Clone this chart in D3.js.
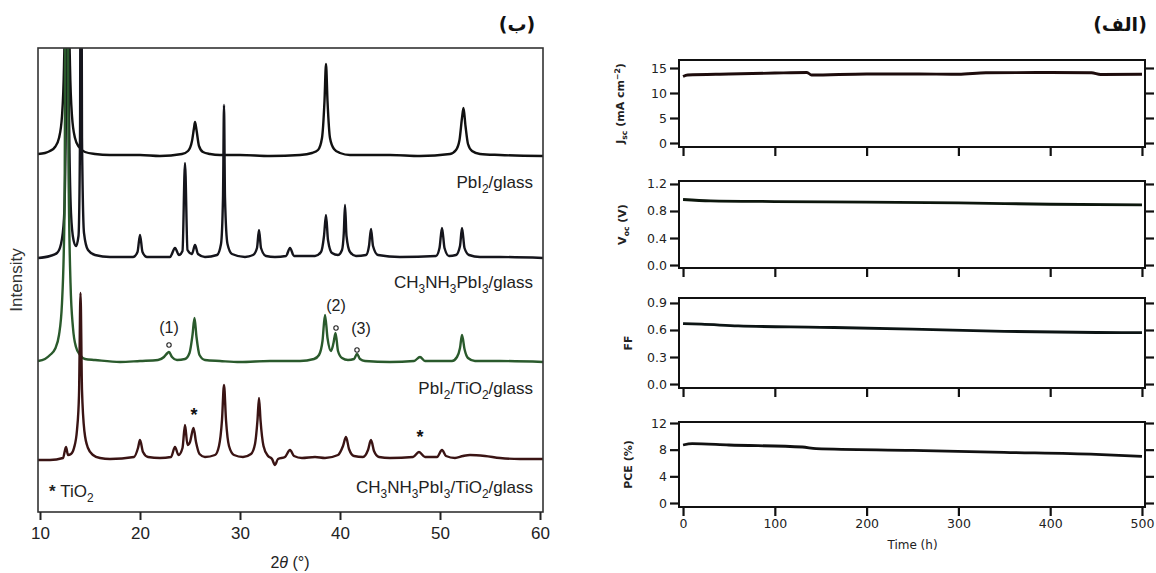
<!DOCTYPE html>
<html><head><meta charset="utf-8">
<script src="https://cdn.jsdelivr.net/npm/d3@7/dist/d3.min.js"></script>
<style>body{margin:0;background:#fff}svg{display:block}</style>
</head><body>
<svg id="c" width="1156" height="573"></svg>
<script>
// ---------------- DATA ----------------
// Left panel (ب): XRD patterns, [2θ, relative intensity (a.u.)]
const xrdTicks = [10, 20, 30, 40, 50, 60];
const xrdOffsets = [356, 254, 149, 52];
const xrdColors = ["#111111", "#15151c", "#2a5a2c", "#3a1414"];
const pbi2Glass = [[9.8,2],[10.5,3],[11,5],[11.5,9],[11.9,18],[12.2,40],[12.4,90],[12.55,200],[12.7,620],[12.85,200],[13.0,90],[13.2,40],[13.5,18],[13.9,9],[14.5,4],[15.5,2],[17,1],[20,1],[22,0],[24.2,2],[24.8,5],[25.2,15],[25.4,28],[25.5,34],[25.65,26],[25.9,10],[26.3,4],[27,2],[28,1],[30,1],[33,0],[36,1],[37.2,3],[37.8,6],[38.2,18],[38.45,55],[38.6,92],[38.75,55],[39.0,18],[39.4,7],[40,3],[41,1],[45,1],[48,0],[51,2],[51.6,6],[51.95,16],[52.2,38],[52.35,48],[52.55,30],[52.8,12],[53.2,5],[54,2],[56,1],[60.3,0]];
const mapiGlass = [[9.8,0],[11,2],[11.7,5],[12.1,14],[12.4,40],[12.6,150],[12.75,420],[12.9,150],[13.1,45],[13.35,18],[13.6,12],[13.85,22],[14.0,120],[14.1,500],[14.2,120],[14.4,25],[14.8,8],[15.5,3],[17,1],[19.3,1],[19.75,6],[20.0,23],[20.25,6],[20.7,1],[23.0,1],[23.5,10],[23.9,3],[24.25,7],[24.5,95],[24.75,8],[25.2,4],[25.5,13],[25.8,4],[26.5,1],[27.7,3],[28.1,14],[28.3,60],[28.4,153],[28.5,60],[28.75,14],[29.2,4],[30.5,1],[31.3,3],[31.7,10],[31.9,28],[32.1,10],[32.6,2],[33.5,1],[34.6,2],[35.0,10],[35.4,2],[37.5,2],[38.1,6],[38.4,22],[38.6,43],[38.8,18],[39.2,5],[39.8,3],[40.2,8],[40.38,25],[40.5,53],[40.65,22],[41,6],[41.6,2],[42.6,3],[42.9,12],[43.1,29],[43.3,12],[43.8,3],[46,1],[49.6,2],[49.95,10],[50.2,30],[50.45,10],[50.9,2],[51.6,3],[52.0,12],[52.2,30],[52.45,10],[52.9,3],[54,1],[56,1],[60.3,0]];
const pbi2TiO2 = [[9.8,2],[10.5,4],[11,8],[11.5,14],[11.9,28],[12.2,60],[12.45,150],[12.65,700],[12.85,200],[13.05,80],[13.3,35],[13.6,16],[14,8],[14.5,4],[15.5,3],[18,1],[20,2],[21.8,3],[22.4,6],[22.75,10],[22.9,11],[23.2,6],[23.7,3],[24.5,4],[24.95,10],[25.25,28],[25.45,45],[25.65,26],[25.95,8],[26.5,3],[28,2],[30,1],[33,2],[36,2],[37.4,4],[37.9,8],[38.25,22],[38.5,48],[38.75,25],[39.1,12],[39.35,20],[39.55,30],[39.8,12],[40.2,5],[40.8,3],[41.4,4],[41.7,9],[42.0,4],[42.5,2],[45,1],[47.4,2],[48.0,6],[48.5,2],[51.2,2],[51.7,6],[52.0,15],[52.2,28],[52.45,14],[52.8,5],[53.5,2],[56,2],[60.3,1]];
const mapiTiO2 = [[9.8,0],[11,0],[12.3,2],[12.6,13],[12.8,5],[13.1,6],[13.4,12],[13.7,30],[13.9,65],[14.05,167],[14.2,70],[14.45,28],[14.8,12],[15.3,5],[16,2],[17,1],[19.4,3],[19.8,12],[20.0,20],[20.3,8],[20.8,3],[22,2],[23.1,3],[23.5,13],[23.85,5],[24.25,12],[24.5,35],[24.75,15],[25.0,18],[25.35,32],[25.6,18],[25.95,6],[26.5,3],[27.5,5],[27.9,14],[28.2,40],[28.4,75],[28.6,40],[28.9,14],[29.4,5],[30.3,3],[31.1,6],[31.5,16],[31.75,40],[31.9,62],[32.05,40],[32.35,14],[32.8,4],[33.2,1],[33.5,-5],[33.8,1],[34.5,3],[35.0,10],[35.4,4],[36.2,2],[37.5,3],[38.5,2],[39.8,5],[40.3,14],[40.6,23],[40.9,11],[41.4,4],[42.3,3],[42.8,10],[43.1,20],[43.4,9],[43.9,3],[45,2],[47.3,3],[47.9,8],[48.5,3],[49.7,3],[50.2,10],[50.6,4],[51.5,2],[52.3,4],[53,5],[54.5,4],[56,2],[58,1],[60.3,1]];
const xrdSeries = [pbi2Glass, mapiGlass, pbi2TiO2, mapiTiO2];
// labels: parts [text, "sub"|""]
const xrdLabels = [
  [["PbI",""],["2","sub"],["/glass",""]],
  [["CH",""],["3","sub"],["NH",""],["3","sub"],["PbI",""],["3","sub"],["/glass",""]],
  [["PbI",""],["2","sub"],["/TiO",""],["2","sub"],["/glass",""]],
  [["CH",""],["3","sub"],["NH",""],["3","sub"],["PbI",""],["3","sub"],["/TiO",""],["2","sub"],["/glass",""]]
];
const peakMarks = [["(1)", 22.9], ["(2)", 39.6], ["(3)", 41.7]];
const tio2Stars = [25.4, 48.0];

// Right panel (الف): stability over time
const timeTicks = [0, 100, 200, 300, 400, 500];
const jscData = [[0,13.3],[5,13.6],[50,13.8],[100,14.0],[135,14.1],[140,13.6],[200,13.8],[250,13.8],[300,13.75],[330,14.05],[400,14.1],[445,14.05],[455,13.7],[500,13.75]];
const vocData = [[0,0.97],[30,0.95],[100,0.94],[200,0.93],[300,0.92],[400,0.90],[500,0.89]];
const ffData = [[0,0.67],[20,0.665],[60,0.645],[150,0.63],[250,0.61],[350,0.585],[450,0.572],[500,0.57]];
const pceData = [[0,8.7],[10,8.9],[50,8.7],[130,8.4],[145,8.15],[250,7.9],[350,7.6],[450,7.3],[500,7.0]];
const jscTicks = [0, 5, 10, 15];
const vocTicks = [0.0, 0.4, 0.8, 1.2];
const ffTicks = [0.0, 0.3, 0.6, 0.9];
const pceTicks = [0, 4, 8, 12];

// ---------------- DRAW ----------------
const svg = d3.select("#c");
const FONT = "'Liberation Sans', Arial, sans-serif";

function richText(sel, parts, size) {
  let shifted = false;
  parts.forEach(([t, kind]) => {
    const ts = sel.append("tspan").text(t);
    if (kind === "sub") {
      ts.attr("font-size", size * 0.7).attr("dy", shifted ? 0 : size * 0.3);
      shifted = true;
    } else if (kind === "sup") {
      ts.attr("font-size", size * 0.7).attr("dy", -size * 0.4);
      shifted = "sup";
    } else {
      if (shifted === true) ts.attr("dy", -size * 0.3);
      else if (shifted === "sup") ts.attr("dy", size * 0.4);
      shifted = false;
    }
  });
}

// ---- Left panel ----
const L = {left: 38, right: 543, top: 48, bottom: 512};
const x1 = d3.scaleLinear().domain([9.8, 60.3]).range([L.left, L.right]);
const y1 = d3.scaleLinear().domain([0, 464]).range([L.bottom, L.top]);

svg.append("clipPath").attr("id", "clipL").append("rect")
  .attr("x", L.left).attr("y", L.top).attr("width", L.right - L.left).attr("height", L.bottom - L.top);

const gL = svg.append("g");
const lineL = (off) => d3.line().x(d => x1(d[0])).y(d => y1(d[1] + off)).curve(d3.curveMonotoneX);
gL.append("g").attr("clip-path", "url(#clipL)")
  .selectAll("path").data(xrdSeries).join("path")
  .attr("d", (d, i) => lineL(xrdOffsets[i])(d))
  .attr("fill", "none").attr("stroke", (d, i) => xrdColors[i])
  .attr("stroke-width", 2.4).attr("stroke-linejoin", "round");

gL.append("rect").attr("x", L.left).attr("y", L.top)
  .attr("width", L.right - L.left).attr("height", L.bottom - L.top)
  .attr("fill", "none").attr("stroke", "#333").attr("stroke-width", 1.6);

const axL = gL.append("g").attr("transform", `translate(0,${L.bottom})`)
  .call(d3.axisBottom(x1).tickValues(xrdTicks).tickSize(8).tickPadding(7).tickFormat(d3.format("d")));
axL.select(".domain").remove();
axL.selectAll("line").attr("stroke", "#222").attr("stroke-width", 2);
axL.selectAll("text").attr("font-family", FONT).attr("font-size", 17).attr("fill", "#222");

const xt = gL.append("text").attr("x", x1(35)).attr("y", 568).attr("text-anchor", "middle")
  .attr("font-family", FONT).attr("font-size", 16).attr("fill", "#222");
xt.append("tspan").text("2");
xt.append("tspan").attr("font-style", "italic").text("θ");
xt.append("tspan").text(" (°)");

gL.append("text").attr("transform", "translate(22,280) rotate(-90)").attr("text-anchor", "middle")
  .attr("font-family", FONT).attr("font-size", 17).attr("fill", "#333").text("Intensity");

const labelY = [188, 288, 394, 493];
xrdLabels.forEach((parts, i) => {
  const t = gL.append("text").attr("x", 533).attr("y", labelY[i]).attr("text-anchor", "end")
    .attr("font-family", FONT).attr("font-size", 17).attr("fill", "#222");
  richText(t, parts, 17);
});

// peak annotations on PbI2/TiO2/glass
const markY = [[333, 345], [311, 328], [334, 350]];
peakMarks.forEach(([lab, th], i) => {
  gL.append("text").attr("x", x1(th) + (i === 2 ? 4 : 0)).attr("y", markY[i][0]).attr("text-anchor", "middle")
    .attr("font-family", FONT).attr("font-size", 16).attr("fill", "#222").text(lab);
  gL.append("circle").attr("cx", x1(th)).attr("cy", markY[i][1]).attr("r", 2.2)
    .attr("fill", "none").attr("stroke", "#222").attr("stroke-width", 1.1);
});
const starY = [421, 443];
tio2Stars.forEach((th, i) => {
  gL.append("text").attr("x", x1(th)).attr("y", starY[i]).attr("text-anchor", "middle")
    .attr("font-family", FONT).attr("font-size", 18).attr("font-weight", "bold").attr("fill", "#111").text("*");
});
const tl = gL.append("text").attr("x", 49).attr("y", 497).attr("font-family", FONT).attr("font-size", 17).attr("fill", "#222");
tl.append("tspan").attr("font-weight", "bold").text("* ");
richText(tl, [["TiO",""],["2","sub"]], 17);

svg.append("text").attr("x", 517).attr("y", 31).attr("text-anchor", "middle")
  .attr("font-family", "'DejaVu Sans', sans-serif").attr("font-weight", "bold").attr("font-size", 19)
  .attr("fill", "#111").text("(ب)");

// ---- Right panels ----
const R = {left: 679, right: 1145};
const x2 = d3.scaleLinear().domain([-4.4, 503.3]).range([R.left, R.right]);
const panels = [
  {data: jscData, ticks: jscTicks, dom: [-0.8, 16.6], top: 60, bottom: 147, fmt: d3.format("d"),
   label: [["J",""],["sc","sub"],[" (mA cm",""],["−2","sup"],[")",""]], lx: 624, color: "#1d0c0c"},
  {data: vocData, ticks: vocTicks, dom: [-0.044, 1.244], top: 181, bottom: 268, fmt: d3.format(".1f"),
   label: [["V",""],["oc","sub"],[" (V)",""]], lx: 626, color: "#0c160c"},
  {data: ffData, ticks: ffTicks, dom: [-0.044, 0.955], top: 298, bottom: 388, fmt: d3.format(".1f"),
   label: [["FF",""]], lx: 632, color: "#0c1414"},
  {data: pceData, ticks: pceTicks, dom: [-0.6, 12.15], top: 422, bottom: 507, fmt: d3.format("d"),
   label: [["PCE (%)",""]], lx: 632, color: "#111"}
];
panels.forEach((p, i) => {
  const y = d3.scaleLinear().domain(p.dom).range([p.bottom, p.top]);
  const g = svg.append("g");
  g.append("path").datum(p.data)
    .attr("d", d3.line().x(d => x2(d[0])).y(d => y(d[1])).curve(d3.curveMonotoneX))
    .attr("fill", "none").attr("stroke", p.color).attr("stroke-width", 2.8);
  g.append("rect").attr("x", R.left).attr("y", p.top).attr("width", R.right - R.left)
    .attr("height", p.bottom - p.top).attr("fill", "none").attr("stroke", "#111").attr("stroke-width", 2);
  const ay = g.append("g").attr("transform", `translate(${R.left},0)`)
    .call(d3.axisLeft(y).tickValues(p.ticks).tickSize(9).tickPadding(3).tickFormat(p.fmt));
  const ayr = g.append("g").attr("transform", `translate(${R.right},0)`)
    .call(d3.axisRight(y).tickValues(p.ticks).tickSize(9).tickFormat(""));
  const ax = g.append("g").attr("transform", `translate(0,${p.bottom})`)
    .call(d3.axisBottom(x2).tickValues(timeTicks).tickSize(9).tickPadding(3)
      .tickFormat(i === panels.length - 1 ? d3.format("d") : ""));
  [ay, ayr, ax].forEach(a => {
    a.select(".domain").remove();
    a.selectAll("line").attr("stroke", "#111").attr("stroke-width", 2.2);
    a.selectAll("text").attr("font-family", "'DejaVu Sans', sans-serif").attr("font-size", 12.5).attr("fill", "#222");
  });
  const t = g.append("text").attr("transform", `translate(${p.lx},${(p.top + p.bottom) / 2}) rotate(-90)`)
    .attr("text-anchor", "middle").attr("font-family", "'DejaVu Sans', sans-serif")
    .attr("font-size", 11).attr("font-weight", "bold").attr("fill", "#222");
  richText(t, p.label, 11);
});
svg.append("text").attr("x", x2(250)).attr("y", 549).attr("text-anchor", "middle")
  .attr("font-family", "'DejaVu Sans', sans-serif").attr("font-size", 12).attr("fill", "#222").text("Time (h)");
svg.append("text").attr("x", 1120).attr("y", 31).attr("text-anchor", "middle")
  .attr("font-family", "'DejaVu Sans', sans-serif").attr("font-weight", "bold").attr("font-size", 19)
  .attr("fill", "#111").text("(الف)");
</script>
</body></html>
